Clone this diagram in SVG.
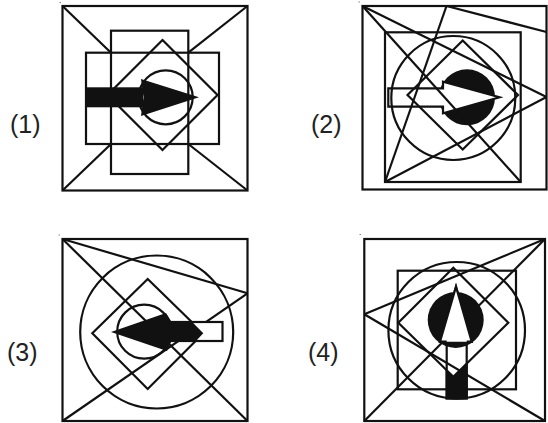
<svg xmlns="http://www.w3.org/2000/svg" width="548" height="423" viewBox="0 0 548 423">
<style>
.o{fill:none;stroke:#111;stroke-width:2.2;stroke-linejoin:miter}
.w{fill:#fff;stroke:#111;stroke-width:2.2}
.wf{fill:#fff;stroke:none}
.b{fill:#111;stroke:none}
.lbl{font-family:"Liberation Sans",Arial,sans-serif;font-size:25px;fill:#222}
.dot{fill:#888}
</style>
<rect width="548" height="423" fill="#fff"/>
<g id="labels">
<text class="lbl" x="10" y="133">(1)</text>
<text class="lbl" x="311" y="133">(2)</text>
<text class="lbl" x="7" y="361">(3)</text>
<text class="lbl" x="308" y="361">(4)</text>
</g>
<g id="panel1">
<rect class="dot" x="59.5" y="2" width="1.5" height="1"/>
<rect class="o" x="62.5" y="6" width="185" height="184.5"/>
<g id="connectors1">
<line class="o" x1="62.5" y1="6" x2="111" y2="52.7"/>
<line class="o" x1="247.5" y1="6" x2="188.3" y2="52.7"/>
<line class="o" x1="62.5" y1="190.5" x2="111" y2="144"/>
<line class="o" x1="247.5" y1="190.5" x2="188.3" y2="144"/>
</g>
<rect class="o" x="111" y="30.7" width="77.3" height="143.3"/>
<rect class="o" x="86" y="52.7" width="133" height="91.3"/>
<polygon class="o" points="162.5,40 217.5,95 162.5,150 107.5,95"/>
<circle class="o" cx="165.7" cy="97.3" r="27"/>
<rect class="b" x="86" y="87.3" width="57" height="20"/>
<polygon class="b" points="141,79 199,97.3 141,116 143.5,97.3"/>
</g>
<g id="panel2">
<rect class="dot" x="358.5" y="1.5" width="1.5" height="1"/>
<circle class="b" cx="467" cy="97.3" r="28"/>
<polygon class="w" points="388.3,88.3 443,88.3 443,81.7 499.5,97.3 443,113.3 443,106.7 388.3,106.7"/>
<rect class="o" x="362.5" y="6" width="184" height="183.5"/>
<rect class="o" x="385" y="32.3" width="135.7" height="149.7"/>
<circle class="o" cx="453.3" cy="98" r="62"/>
<polygon class="o" points="462.7,40.5 518,95 462.7,149.5 407.5,95"/>
<g id="connectors2">
<line class="o" x1="362.5" y1="6" x2="520.7" y2="182"/>
<line class="o" x1="362.5" y1="6" x2="546.5" y2="97"/>
<line class="o" x1="546.5" y1="97" x2="385" y2="182"/>
<line class="o" x1="446.5" y1="6" x2="385" y2="182"/>
<line class="o" x1="446.5" y1="6" x2="546.5" y2="32"/>
</g>
</g>
<g id="panel3">
<rect class="dot" x="58.5" y="234.5" width="1.5" height="1"/>
<rect class="o" x="62.5" y="239" width="185" height="182"/>
<g id="connectors3">
<line class="o" x1="62.5" y1="239" x2="247.5" y2="293.3"/>
<line class="o" x1="62.5" y1="239" x2="247.5" y2="421"/>
<line class="o" x1="62.5" y1="421" x2="247.5" y2="293.3"/>
</g>
<circle class="o" cx="156.7" cy="332" r="76.5"/>
<polygon class="o" points="147.7,279 203.3,333.3 147.7,389 92.3,333.3"/>
<circle class="o" cx="144.2" cy="331.7" r="27"/>
<rect class="w" x="170" y="322" width="52.5" height="19"/>
<polygon class="b" points="169,321 191.2,321 203.3,333.3 195,342 169,342"/>
<polygon class="b" points="111,332 166,313 171,321 171,342 167,351"/>
</g>
<g id="panel4">
<rect class="dot" x="359.5" y="234" width="1.5" height="1"/>
<polygon class="w" points="456,286.7 471.7,341.7 466.7,341.7 466.7,398.3 446.7,398.3 446.7,341.7 440,341.7"/>
<rect class="o" x="364.3" y="239" width="180.7" height="182"/>
<rect class="o" x="397.7" y="270.7" width="118.3" height="118.6"/>
<circle class="o" cx="456.7" cy="330.3" r="68.3"/>
<polygon class="o" points="453.3,267.7 508.3,322.7 453.3,376.7 398.3,322.7"/>
<g id="connectors4">
<line class="o" x1="545" y1="239" x2="364.3" y2="314.3"/>
<line class="o" x1="364.3" y1="314.3" x2="545" y2="421"/>
<line class="o" x1="545" y1="239" x2="364.3" y2="421"/>
</g>
<circle class="b" cx="455.7" cy="320" r="28"/>
<polygon class="wf" points="456,286.7 471.7,341.7 440,341.7"/>
<polyline class="o" points="446.7,341.7 440,341.7 456,286.7 471.7,341.7 466.7,341.7"/>
<polygon class="b" points="445.6,370 453.3,376.7 467.8,362.5 467.8,399.4 445.6,399.4"/>
</g>
</svg>
